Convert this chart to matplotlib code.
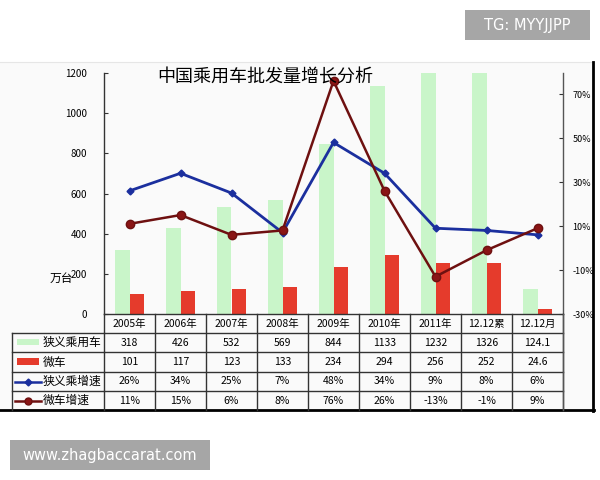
import matplotlib
matplotlib.use('Agg')
import matplotlib.pyplot as plt
import matplotlib.transforms as mtransforms
from matplotlib.patches import Rectangle

plt.rcParams['font.family'] = ['Noto Sans CJK SC', 'DejaVu Sans']

# data
categories = ['2005年', '2006年', '2007年', '2008年', '2009年', '2010年', '2011年', '12.12累', '12.12月']
passenger = [318, 426, 532, 569, 844, 1133, 1232, 1326, 124.1]
minicar = [101, 117, 123, 133, 234, 294, 256, 252, 24.6]
passenger_growth = [26, 34, 25, 7, 48, 34, 9, 8, 6]
minicar_growth = [11, 15, 6, 8, 76, 26, -13, -1, 9]
series_names = ['狭义乘用车', '微车', '狭义乘增速', '微车增速']

green = '#c9f5c9'
red = '#e53b2c'
blue = '#1b2f9e'
dred = '#6e1010'

W, H = 600, 480
fig = plt.figure(figsize=(6, 4.8), dpi=100)

def px(x0, y0, x1, y1):
    return [x0 / W, 1 - y1 / H, (x1 - x0) / W, (y1 - y0) / H]

# background of the chart region
bg = fig.add_axes([0, 0, 1, 1], zorder=0)
bg.set_xlim(0, W)
bg.set_ylim(H, 0)
bg.axis('off')
bg.add_patch(Rectangle((0, 62), 593, 348, facecolor='#fafafa', edgecolor='none'))
bg.plot([0, 593], [62, 62], color='#e6e6e6', lw=0.8)

ax = fig.add_axes(px(104, 73, 563, 314), zorder=1)
ax.patch.set_alpha(0)
x = list(range(len(categories)))
w = 0.28
ax.bar([i - w / 2 for i in x], passenger, width=w, color=green)
ax.bar([i + w / 2 for i in x], minicar, width=w, color=red)
ax.set_xlim(-0.5, len(categories) - 0.5)
ax.set_ylim(0, 1200)
ax.set_yticks(range(0, 1201, 200))
ax.tick_params(axis='y', direction='in', length=3, pad=12, labelsize=7, color='#333333')
ax.set_xticks([])
for s in ['top', 'right', 'bottom']:
    ax.spines[s].set_visible(False)
ax.spines['left'].set_color('#333333')
ax.spines['left'].set_linewidth(1)

ax2 = ax.twinx()
ax2.plot(x, passenger_growth, color=blue, lw=2, marker='D', ms=3.5, zorder=3)
ax2.plot(x, minicar_growth, color=dred, lw=1.8, marker='o', ms=6,
         markerfacecolor='#8a1515', markeredgecolor=dred, zorder=4)
ax2.set_ylim(-30, 79.6)
ax2.set_yticks(range(-30, 71, 20))
ax2.set_yticklabels([f'{v}%' for v in range(-30, 71, 20)])
ax2.tick_params(axis='y', direction='in', length=3, pad=7, labelsize=6.5, color='#333333')
for s in ['top', 'left', 'bottom']:
    ax2.spines[s].set_visible(False)
ax2.spines['right'].set_color('#555555')
ax2.spines['right'].set_linewidth(1)

# overlay for title, table and labels
ov = fig.add_axes([0, 0, 1, 1], zorder=5)
ov.set_xlim(0, W)
ov.set_ylim(H, 0)
ov.axis('off')
tr = mtransforms.blended_transform_factory(ax.transData, ov.transData)

ov.text(265, 77, '中国乘用车批发量增长分析', ha='center', va='center', fontsize=13)
ov.text(61, 278, '万台', ha='center', va='center', fontsize=8.5)

row_y = [314, 333, 352, 372, 391, 410]
lc = '#333333'
n = len(categories)
# horizontal lines
ov.plot([-0.5, n - 0.5], [314, 314], color=lc, lw=1, transform=tr)
for yy in row_y[1:-1]:
    ov.plot([12, 104], [yy, yy], color=lc, lw=1)
    ov.plot([-0.5, n - 0.5], [yy, yy], color=lc, lw=1, transform=tr)
ov.plot([0, 594], [410, 410], color='black', lw=2)
ov.plot([593, 593], [62, 411], color='black', lw=2)
# vertical lines
for k in range(n + 1):
    ov.plot([k - 0.5, k - 0.5], [314, 410], color=lc, lw=1, transform=tr)
ov.plot([12, 12], [333, 410], color=lc, lw=1)
ov.plot([563, 563], [314, 410], color='#555555', lw=1)

rows = [
    [f'{v:g}' for v in passenger],
    [f'{v:g}' for v in minicar],
    [f'{v}%' for v in passenger_growth],
    [f'{v}%' for v in minicar_growth],
]
for i, c in enumerate(categories):
    ov.text(i, 323.5, c, transform=tr, ha='center', va='center', fontsize=7.5)
    for r, vals in enumerate(rows):
        yc = (row_y[r + 1] + row_y[r + 2]) / 2
        ov.text(i, yc, vals[i], transform=tr, ha='center', va='center', fontsize=7.5)

# legend column
for r, name in enumerate(series_names):
    yc = (row_y[r + 1] + row_y[r + 2]) / 2
    ov.text(43, yc, name, ha='left', va='center', fontsize=8.5)
ov.add_patch(Rectangle((17, 339), 22, 6, facecolor=green, edgecolor='none'))
ov.add_patch(Rectangle((17, 358), 22, 7, facecolor=red, edgecolor='none'))
ov.plot([15, 28, 41], [381.5, 381.5, 381.5], color=blue, lw=1.8, marker='D', ms=3.5, markevery=[1])
ov.plot([15, 28, 41], [400.5, 400.5, 400.5], color=dred, lw=1.8, marker='o', ms=5,
        markerfacecolor='#8a1515', markevery=[1])

# watermarks
ov.add_patch(Rectangle((465, 10), 125, 30, facecolor='#a6a6a6', edgecolor='none'))
ov.text(527.5, 25.5, 'TG: MYYJJPP', ha='center', va='center', color='white', fontsize=10.5,
        family='DejaVu Sans')
ov.add_patch(Rectangle((10, 440), 200, 30, facecolor='#a6a6a6', edgecolor='none'))
ov.text(110, 455.5, 'www.zhagbaccarat.com', ha='center', va='center', color='white',
        fontsize=10.5, family='DejaVu Sans')

fig.savefig('out.png', dpi=100)
